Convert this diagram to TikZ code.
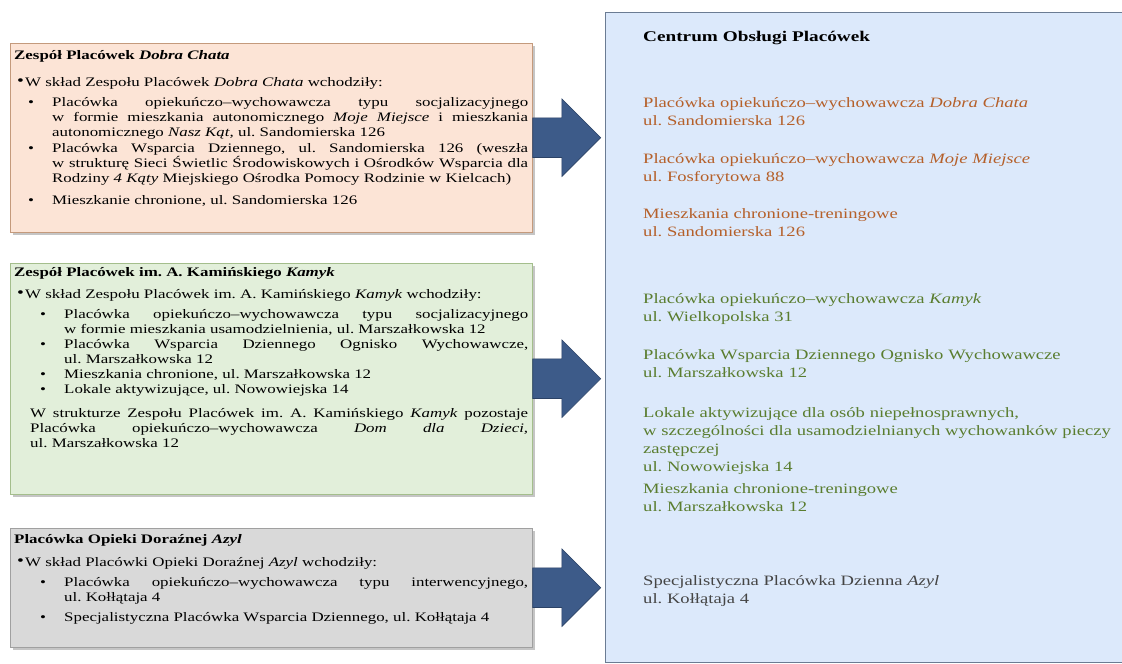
\documentclass[tikz,border=0pt]{standalone}
\usepackage{fontspec}
\setmainfont[FakeStretch=1.3]{Liberation Serif}
\usepackage{xcolor}
\usetikzlibrary{positioning}
\usetikzlibrary{shapes.arrows}
\usetikzlibrary{shadows}
\definecolor{chatafill}{HTML}{FCE4D6}
\definecolor{chatadraw}{HTML}{C49A7C}
\definecolor{chatatext}{HTML}{B5602A}
\definecolor{kamykfill}{HTML}{E2EFDA}
\definecolor{kamykdraw}{HTML}{A4BE8C}
\definecolor{kamyktext}{HTML}{5A7D2F}
\definecolor{azylfill}{HTML}{D9D9D9}
\definecolor{azyldraw}{HTML}{A0A0A0}
\definecolor{azyltext}{HTML}{454545}
\definecolor{copfill}{HTML}{DCE9FB}
\definecolor{copdraw}{HTML}{6B7C93}
\definecolor{arrowfill}{HTML}{3D5B89}
\definecolor{arrowdraw}{HTML}{2B4266}
\hyphenpenalty=10000
\frenchspacing

% punkt listy: {wciecie tekstu}{polozenie kropki}
\newcommand{\punkt}[2]{\par\hangindent=#1\hangafter=1\noindent\makebox[#1][l]{\hspace{#2}\textbullet}\ignorespaces}
\newcommand{\kropa}{\makebox[11pt][l]{\hspace{3pt}\raisebox{1pt}{\fontsize{15}{15}\selectfont\textbullet}}}
% pusty wiersz na dole ramki
\newcommand{\dol}[1]{\par\vspace{#1}\noindent\mbox{}}

\begin{document}
\begin{tikzpicture}[x=1pt, y=-1pt,
	zespol/.style={draw, rectangle, anchor=north west, inner xsep=4pt, inner ysep=4pt, text width=514pt,
		align=justify, font=\fontsize{13}{15}\selectfont,
		drop shadow={shadow xshift=2.5pt, shadow yshift=-2.5pt, fill=black!45}},
	strzalka/.style={single arrow, single arrow head extend=19pt, minimum height=68pt,
		inner xsep=0pt, inner ysep=19.5pt, fill=arrowfill, draw=arrowdraw, line width=0.6pt},
	wpis/.style={anchor=base west, inner sep=0pt, text width=480pt, align=left,
		font=\fontsize{14.3}{18}\selectfont}]

	\useasboundingbox (0,0) rectangle (1122,664);

	% Centrum Obslugi Placowek
	\node[draw=copdraw, fill=copfill, line width=0.8pt, anchor=north west,
		minimum width=517pt, minimum height=650pt, inner sep=0pt] (cop) at (605,12) {};

	% Zespoly placowek
	\node[zespol, fill=chatafill, draw=chatadraw] (dobra) at (10,43) {%
		\rule{0pt}{12pt}{\bfseries Zespół Placówek \textit{Dobra Chata}}\par\vspace{12pt}
		\noindent\kropa W skład Zespołu Placówek \textit{Dobra Chata} wchodziły:\par\vspace{5pt}
		\punkt{38pt}{14pt}Placówka opiekuńczo–wychowawcza typu socjalizacyjnego \linebreak w formie mieszkania autonomicznego \textit{Moje Miejsce} i mieszkania \linebreak autonomicznego \textit{Nasz Kąt,} ul. Sandomierska 126\par\vspace{1pt}
		\punkt{38pt}{14pt}Placówka Wsparcia Dziennego, ul. Sandomierska 126 (weszła \linebreak w strukturę Sieci Świetlic Środowiskowych i Ośrodków Wsparcia dla \linebreak Rodziny \textit{4 Kąty} Miejskiego Ośrodka Pomocy Rodzinie w Kielcach)\par\vspace{7pt}
		\punkt{38pt}{14pt}Mieszkanie chronione, ul. Sandomierska 126\dol{9pt}};

	\node[zespol, fill=kamykfill, draw=kamykdraw] (kamyk) at (10,263) {%
		{\bfseries Zespół Placówek im. A. Kamińskiego \textit{Kamyk}}\par\vspace{7pt}
		\noindent\kropa W skład Zespołu Placówek im. A. Kamińskiego \textit{Kamyk} wchodziły:\par\vspace{5pt}
		\punkt{50pt}{26pt}Placówka opiekuńczo–wychowawcza typu socjalizacyjnego \linebreak w formie mieszkania usamodzielnienia, ul. Marszałkowska 12\par
		\punkt{50pt}{26pt}Placówka Wsparcia Dziennego Ognisko Wychowawcze, \linebreak ul. Marszałkowska 12\par
		\punkt{50pt}{26pt}Mieszkania chronione, ul. Marszałkowska 12\par
		\punkt{50pt}{26pt}Lokale aktywizujące, ul. Nowowiejska 14\par\vspace{9pt}
		{\leftskip=16pt\noindent W strukturze Zespołu Placówek im. A. Kamińskiego \textit{Kamyk} pozostaje \linebreak Placówka opiekuńczo–wychowawcza \textit{Dom dla Dzieci,} \linebreak ul. Marszałkowska 12\par}\dol{28pt}};

	\node[zespol, fill=azylfill, draw=azyldraw] (azyl) at (10,528) {%
		\rule{0pt}{11pt}{\bfseries Placówka Opieki Doraźnej \textit{Azyl}}\par\vspace{8pt}
		\noindent\kropa W skład Placówki Opieki Doraźnej \textit{Azyl} wchodziły:\par\vspace{5pt}
		\punkt{50pt}{26pt}Placówka opiekuńczo–wychowawcza typu interwencyjnego, \linebreak ul. Kołłątaja 4\par\vspace{5pt}
		\punkt{50pt}{26pt}Specjalistyczna Placówka Wsparcia Dziennego, ul. Kołłątaja 4\dol{7pt}};

	% Strzalki
	\node[strzalka, right=0pt of dobra] (s1) {};
	\node[strzalka, right=0pt of kamyk] (s2) {};
	\node[strzalka, right=0pt of azyl] (s3) {};

	% Placowki po zmianie
	\node[wpis, font=\bfseries\fontsize{14.8}{18}\selectfont] (naglowek) at (643,41) {Centrum Obsługi Placówek};
	\node[wpis, text=chatatext] (c1) at (643,107) {Placówka opiekuńczo–wychowawcza \textit{Dobra Chata}\\ul. Sandomierska 126};
	\node[wpis, text=chatatext] (c2) at (643,163) {Placówka opiekuńczo–wychowawcza \textit{Moje Miejsce}\\ul. Fosforytowa 88};
	\node[wpis, text=chatatext] (c3) at (643,218) {Mieszkania chronione-treningowe\\ul. Sandomierska 126};
	\node[wpis, text=kamyktext] (k1) at (643,303) {Placówka opiekuńczo–wychowawcza \textit{Kamyk}\\ul. Wielkopolska 31};
	\node[wpis, text=kamyktext] (k2) at (643,359) {Placówka Wsparcia Dziennego Ognisko Wychowawcze\\ul. Marszałkowska 12};
	\node[wpis, text=kamyktext] (k3) at (643,417) {Lokale aktywizujące dla osób niepełnosprawnych,\\w szczególności dla usamodzielnianych wychowanków pieczy\\zastępczej\\ul. Nowowiejska 14};
	\node[wpis, text=kamyktext] (k4) at (643,493) {Mieszkania chronione-treningowe\\ul. Marszałkowska 12};
	\node[wpis, text=azyltext] (a1) at (643,585) {Specjalistyczna Placówka Dzienna \textit{Azyl}\\ul. Kołłątaja 4};
\end{tikzpicture}
\end{document}
